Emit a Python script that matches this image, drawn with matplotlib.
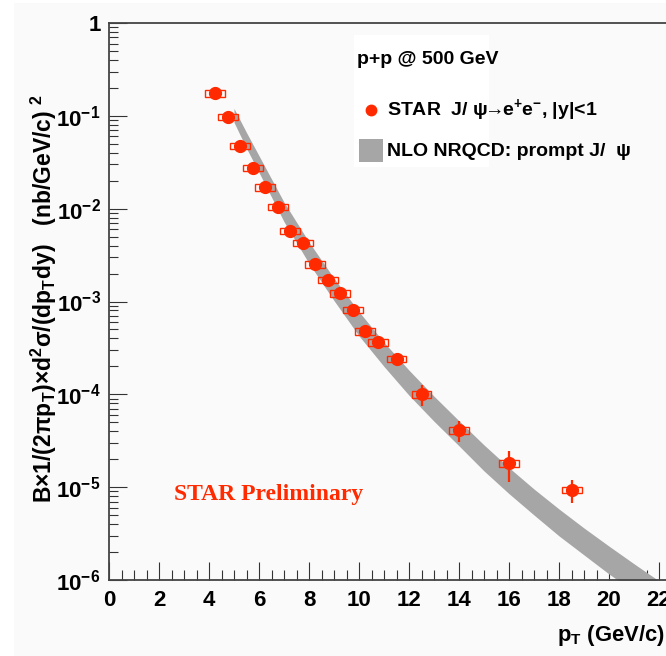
import numpy as np
import matplotlib
matplotlib.use("Agg")
import matplotlib.pyplot as plt
from matplotlib.patches import Rectangle
from matplotlib.lines import Line2D

plt.rcParams['font.family'] = ['Liberation Sans', 'DejaVu Sans']
plt.rcParams['font.weight'] = 'bold'
plt.rcParams['mathtext.fontset'] = 'custom'
plt.rcParams['mathtext.rm'] = 'Liberation Sans:bold'
plt.rcParams['mathtext.it'] = 'Liberation Sans:bold'
plt.rcParams['mathtext.bf'] = 'Liberation Sans:bold'
plt.rcParams['mathtext.default'] = 'rm'

# == STAR J/psi -> ee, p+p 500 GeV == #
pt = np.array([4.25, 4.75, 5.25, 5.75, 6.25, 6.75, 7.25, 7.75, 8.25, 8.75,
               9.25, 9.75, 10.25, 10.75, 11.5, 12.5, 14.0, 16.0, 18.5])
xsec = np.array([0.1746, 0.0977, 0.0473, 0.0276, 0.0170, 0.01047, 0.00575,
                 0.00427, 0.00251, 0.00170, 0.00123, 0.000813, 0.000479,
                 0.000363, 0.000240, 0.000100, 4.11e-5, 1.80e-5, 9.3e-6])
stat = np.array([0.028, 0.0078, 0.0028, 0.0017, 0.0010, 0.00063, 0.00035,
                 0.00026, 0.00015, 0.0001, 0.000074, 0.000049, 0.000048,
                 0.000058, 0.000019, 0.000025, 1.05e-5, 0.65e-5, 2.6e-6])
sys_rel = 0.08
box_hw = 0.4

# == NLO NRQCD prompt J/psi band, log10 of upper / lower edge == #
band_pt = np.array([5.0, 5.5, 6.0, 7.0, 8.0, 9.0, 10.0, 11.0, 12.0, 13.0,
                    14.0, 15.0, 16.0, 17.0, 18.0, 19.0, 20.0, 21.0, 22.0,
                    23.0])
band_hi = np.array([-0.92, -1.18, -1.43, -1.93, -2.36, -2.75, -3.11, -3.44,
                    -3.74, -4.02, -4.285, -4.545, -4.79, -5.02, -5.235,
                    -5.44, -5.635, -5.825, -6.01, -6.19])
band_lo = np.array([-1.07, -1.35, -1.61, -2.14, -2.59, -2.99, -3.37, -3.70,
                    -4.01, -4.29, -4.555, -4.825, -5.07, -5.30, -5.525,
                    -5.73, -5.935, -6.125, -6.32, -6.51])

xticks = np.arange(0, 23, 2)
yticks = [1e-6, 1e-5, 1e-4, 1e-3, 1e-2, 1e-1, 1]
ylabels = ['$10^{-6}$', '$10^{-5}$', '$10^{-4}$', '$10^{-3}$', '$10^{-2}$',
           '$10^{-1}$', '1']

red = '#ff2a00'
gray = '#a6a6a6'
W, H = 666, 656


def fx(px):
    return px / W


def fy(py):
    return 1 - py / H


fig = plt.figure(figsize=(W / 100, H / 100), dpi=100, facecolor='#fafafa')
# axes: x=0 at px 109, 25 px per GeV; y from px 580 (1e-6) to 23 (1)
ax = fig.add_axes([fx(109), fy(580), 23 * 25 / W, (580 - 23) / H])
ax.set_facecolor('#fafafa')
ax.set_yscale('log')
ax.set_xlim(0, 23)
ax.set_ylim(1e-6, 1)

# band
ax.fill_between(band_pt, 10 ** band_lo, 10 ** band_hi, color=gray, lw=0,
                zorder=2)

# systematic boxes
ax.bar(pt, 2 * sys_rel * xsec, bottom=xsec * (1 - sys_rel), width=2 * box_hw,
       fill=False, edgecolor=red, linewidth=1.0, zorder=3)
# statistical errors + points
ax.errorbar(pt, xsec, yerr=stat, fmt='none', ecolor=red, elinewidth=1.6,
            capsize=0, zorder=4)
ax.plot(pt, xsec, 'o', ms=8.5, color=red, mec=red, zorder=5)

for s in ['left', 'bottom', 'top', 'right']:
    ax.spines[s].set_color('#444444')
    ax.spines[s].set_linewidth(1.3)

ax.set_xticks(xticks)
ax.set_xticklabels([str(v) for v in xticks])
ax.set_xticks(np.arange(0, 23.01, 0.5), minor=True)
ax.set_yticks(yticks)
ax.set_yticklabels(ylabels)
ax.tick_params(which='both', direction='in', top=False, right=False,
               color='#333333', width=0.8)
ax.tick_params(axis='x', which='major', length=13, pad=7, labelsize=16)
ax.tick_params(axis='x', which='minor', length=7)
ax.tick_params(axis='y', which='major', length=13, pad=6, labelsize=16)
ax.tick_params(axis='y', which='minor', length=6.5)
ax.yaxis.set_minor_formatter(plt.NullFormatter())

# axis titles
fig.text(fx(44), fy(299),
         r'B×1/(2πp$_{T}$)×d$^{2}$σ/(dp$_{T}$dy)   (nb/GeV/c) $^{2}$',
         rotation=90, ha='center', va='center', fontsize=16.5,
         fontweight='bold')
fig.text(fx(557), fy(636), r'p$_{T}$ (GeV/c)', ha='left', va='center',
         fontsize=15.8, fontweight='bold')

ax.text(6.4, 8.4e-6, 'STAR Preliminary', color=red, fontsize=17,
        family='Liberation Serif', fontweight='bold', ha='center',
        va='center')

# legend
fig.patches.append(Rectangle((fx(354), fy(167)), (489 - 354) / W,
                             (167 - 35) / H, transform=fig.transFigure,
                             facecolor='white', edgecolor='none', zorder=1))
fig.text(fx(357), fy(59), 'p+p @ 500 GeV', ha='left', va='center',
         fontsize=14, fontweight='bold', zorder=3)
fig.add_artist(Line2D([fx(371)], [fy(110)], marker='o', ms=7.5, color=red,
                      transform=fig.transFigure, zorder=4))
fig.text(fx(387), fy(110),
         r'STAR  J/ ψ$\!\!\rightarrow\!\!$e$^{+}$e$^{-}$, |y|<1',
         ha='left', va='center', fontsize=14, fontweight='bold', zorder=3)
fig.patches.append(Rectangle((fx(359), fy(162)), 24 / W, 23 / H,
                             transform=fig.transFigure, facecolor=gray,
                             edgecolor='none', zorder=2))
fig.text(fx(387), fy(151), 'NLO NRQCD: prompt J/  ψ', ha='left',
         va='center', fontsize=14, fontweight='bold', zorder=3)

# white margins of the original canvas
fig.patches.append(Rectangle((0, 0), fx(14), 1, transform=fig.transFigure,
                             facecolor='white', edgecolor='none', zorder=0.5))
fig.patches.append(Rectangle((0, fy(3)), 1, 3 / H, transform=fig.transFigure,
                             facecolor='white', edgecolor='none', zorder=0.5))

fig.savefig('out.png', dpi=100, facecolor=fig.get_facecolor())
